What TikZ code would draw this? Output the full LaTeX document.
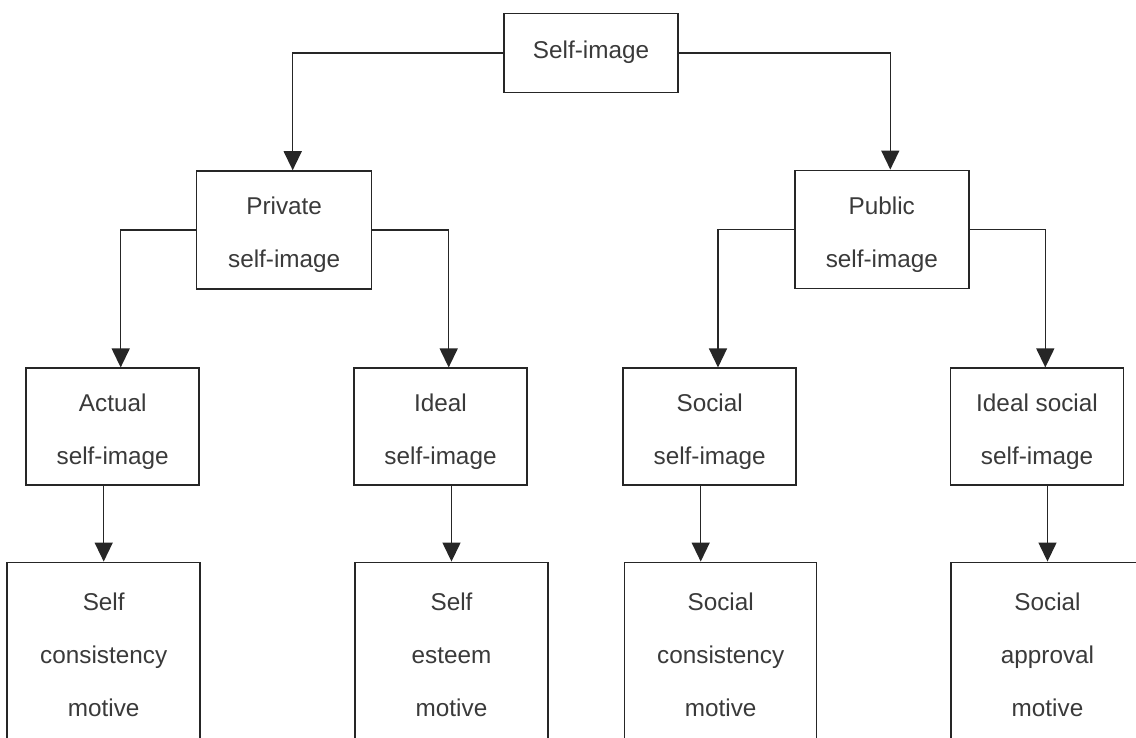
\documentclass[tikz,border=0pt]{standalone}
\usepackage{fontspec}
\setmainfont{Liberation Sans}
\usetikzlibrary{arrows.meta}
\definecolor{ink}{HTML}{262626}
\definecolor{txtgray}{HTML}{3A3A3A}
\begin{document}
\begin{tikzpicture}[x=1pt,y=-1pt,
  box/.style={draw=ink, line width=1.5pt, inner sep=0pt},
  lbl/.style={text=txtgray, align=center, inner sep=0pt,
              font=\fontsize{24.3}{53}\selectfont},
  link/.style={draw=ink, line width=1.4pt},
  arr/.style={link, -{Triangle[width=18pt,length=19pt]}},
]
\useasboundingbox (0,0) rectangle (1136,738);
\fill[white] (0,0) rectangle (1136,738);
\clip (0,0) rectangle (1136,738);

% root
\node[box, minimum width=174pt, minimum height=79pt] (top) at (591,53) {};
\node[lbl] (top-t) at (591,52) {Self-image};

% second level
\node[box, minimum width=175pt, minimum height=118pt] (pv) at (284.2,230) {};
\node[lbl] (pv-t) at (284.2,235) {Private\\self-image};
\node[box, minimum width=174pt, minimum height=118pt] (pb) at (881.8,229.3) {};
\node[lbl] (pb-t) at (881.8,234.5) {Public\\self-image};

% third level
\node[box, minimum width=173pt, minimum height=117pt] (act) at (112.7,426.7) {};
\node[lbl] (act-t) at (112.7,432) {Actual\\self-image};
\node[box, minimum width=173pt, minimum height=117pt] (ideal) at (440.5,426.7) {};
\node[lbl] (ideal-t) at (440.5,432) {Ideal\\self-image};
\node[box, minimum width=173pt, minimum height=117pt] (soc) at (709.7,426.7) {};
\node[lbl] (soc-t) at (709.7,432) {Social\\self-image};
\node[box, minimum width=173pt, minimum height=117pt] (isoc) at (1037,426.7) {};
\node[lbl] (isoc-t) at (1037,432) {Ideal social\\self-image};

% motives (run past the lower edge)
\node[box, minimum width=193pt, minimum height=200pt] (m1) at (103.7,662.3) {};
\node[lbl] (m1-t) at (103.7,655) {Self\\consistency\\motive};
\node[box, minimum width=193pt, minimum height=200pt] (m2) at (451.5,662.3) {};
\node[lbl] (m2-t) at (451.5,655) {Self\\esteem\\motive};
\node[box, minimum width=192pt, minimum height=200pt] (m3) at (720.7,662.3) {};
\node[lbl] (m3-t) at (720.7,655) {Social\\consistency\\motive};
\node[box, minimum width=193pt, minimum height=200pt] (m4) at (1047.5,662.3) {};
\node[lbl] (m4-t) at (1047.5,655) {Social\\approval\\motive};

% entry points of the elbow connectors
\coordinate (pv-in)    at ([xshift=8.5pt]pv.north);
\coordinate (pb-in)    at ([xshift=8.5pt]pb.north);
\coordinate (act-in)   at ([xshift=8pt]act.north);
\coordinate (ideal-in) at ([xshift=8.2pt]ideal.north);
\coordinate (soc-in)   at ([xshift=8.3pt]soc.north);
\coordinate (isoc-in)  at ([xshift=8.3pt]isoc.north);

\draw[arr] (top.west) -| (pv-in);
\draw[arr] (top.east) -| (pb-in);
\draw[arr] (pv.west)  -| (act-in);
\draw[arr] (pv.east)  -| (ideal-in);
\draw[arr] (pb.west)  -| (soc-in);
\draw[arr] (pb.east)  -| (isoc-in);

% straight drops to the motives
\coordinate (act-out)  at (m1.north |- act.south);
\coordinate (ideal-out) at (m2.north |- ideal.south);
\coordinate (soc-out)  at ([xshift=-9pt]soc.south);
\coordinate (isoc-out) at (m4.north |- isoc.south);

\draw[arr] (act-out)   -- (m1.north);
\draw[arr] (ideal-out) -- (m2.north);
\draw[arr] (soc-out)   -- (soc-out |- m3.north);
\draw[arr] (isoc-out)  -- (m4.north);
\end{tikzpicture}
\end{document}
